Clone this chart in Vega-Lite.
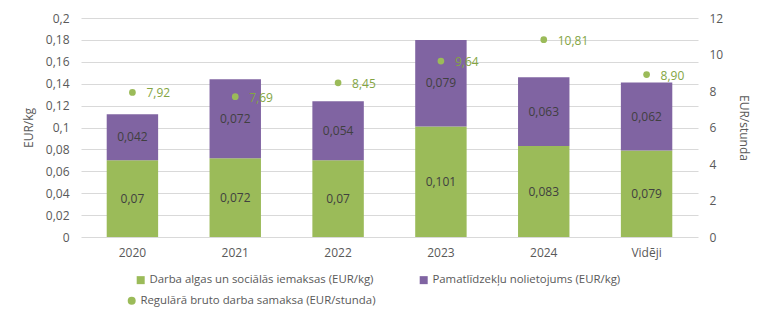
{
  "$schema": "https://vega.github.io/schema/vega-lite/v6.json",
  "width": 617,
  "height": 219,
  "autosize": {"type": "none"},
  "padding": {"left": 81, "top": 18, "right": 70, "bottom": 95},
  "background": "white",
  "datasets": {
    "bars": [
      {"year": "2020", "series": "Darba algas un sociālās iemaksas (EUR/kg)", "value": 0.07},
      {"year": "2020", "series": "Pamatlīdzekļu nolietojums (EUR/kg)", "value": 0.042},
      {"year": "2021", "series": "Darba algas un sociālās iemaksas (EUR/kg)", "value": 0.072},
      {"year": "2021", "series": "Pamatlīdzekļu nolietojums (EUR/kg)", "value": 0.072},
      {"year": "2022", "series": "Darba algas un sociālās iemaksas (EUR/kg)", "value": 0.07},
      {"year": "2022", "series": "Pamatlīdzekļu nolietojums (EUR/kg)", "value": 0.054},
      {"year": "2023", "series": "Darba algas un sociālās iemaksas (EUR/kg)", "value": 0.101},
      {"year": "2023", "series": "Pamatlīdzekļu nolietojums (EUR/kg)", "value": 0.079},
      {"year": "2024", "series": "Darba algas un sociālās iemaksas (EUR/kg)", "value": 0.083},
      {"year": "2024", "series": "Pamatlīdzekļu nolietojums (EUR/kg)", "value": 0.063},
      {"year": "Vidēji", "series": "Darba algas un sociālās iemaksas (EUR/kg)", "value": 0.079},
      {"year": "Vidēji", "series": "Pamatlīdzekļu nolietojums (EUR/kg)", "value": 0.062}
    ],
    "wages": [
      {"year": "2020", "series": "Regulārā bruto darba samaksa (EUR/stunda)", "wage": 7.92},
      {"year": "2021", "series": "Regulārā bruto darba samaksa (EUR/stunda)", "wage": 7.69},
      {"year": "2022", "series": "Regulārā bruto darba samaksa (EUR/stunda)", "wage": 8.45},
      {"year": "2023", "series": "Regulārā bruto darba samaksa (EUR/stunda)", "wage": 9.64},
      {"year": "2024", "series": "Regulārā bruto darba samaksa (EUR/stunda)", "wage": 10.81},
      {"year": "Vidēji", "series": "Regulārā bruto darba samaksa (EUR/stunda)", "wage": 8.90}
    ]
  },
  "layer": [
    {
      "data": {"name": "bars"},
      "encoding": {
        "x": {
          "field": "year", "type": "nominal",
          "scale": {"domain": ["2020", "2021", "2022", "2023", "2024", "Vidēji"], "paddingInner": 0.5, "paddingOuter": 0.25},
          "axis": {"title": null, "labelAngle": 0, "ticks": false, "domain": false, "labelPadding": 10, "grid": false}
        }
      },
      "layer": [
        {
          "mark": {"type": "bar"},
          "encoding": {
            "y": {
              "field": "value", "type": "quantitative", "stack": "zero",
              "scale": {"domain": [0, 0.2], "nice": false},
              "axis": {"orient": "left", "title": "EUR/kg", "values": [0, 0.02, 0.04, 0.06, 0.08, 0.1, 0.12, 0.14, 0.16, 0.18, 0.2], "format": ".2~f", "labelOverlap": false, "ticks": false, "domain": false, "labelPadding": 12, "titlePadding": 10, "grid": true}
            },
            "color": {
              "field": "series", "type": "nominal",
              "scale": {"domain": ["Darba algas un sociālās iemaksas (EUR/kg)", "Pamatlīdzekļu nolietojums (EUR/kg)"], "range": ["#9bbb59", "#8064a2"]},
              "legend": {"title": null, "orient": "none", "direction": "horizontal", "legendX": 54, "legendY": 256, "symbolType": "square", "symbolSize": 64, "labelOffset": 3, "columnPadding": 44, "padding": 0}
            },
            "order": {"field": "series", "sort": "ascending"}
          }
        },
        {
          "mark": {"type": "text", "fontSize": 12, "color": "#404040", "baseline": "middle"},
          "encoding": {
            "y": {
              "field": "value", "type": "quantitative", "stack": "zero", "bandPosition": 0.5,
              "axis": {"orient": "left", "title": "EUR/kg", "values": [0, 0.02, 0.04, 0.06, 0.08, 0.1, 0.12, 0.14, 0.16, 0.18, 0.2], "format": ".2~f", "labelOverlap": false, "ticks": false, "domain": false, "labelPadding": 12, "titlePadding": 10, "grid": true}
            },
            "detail": {"field": "series"},
            "order": {"field": "series", "sort": "ascending"},
            "text": {"field": "value", "type": "quantitative", "format": ".3~f"}
          }
        }
      ]
    },
    {
      "data": {"name": "wages"},
      "encoding": {
        "x": {"field": "year", "type": "nominal"},
        "y": {
          "field": "wage", "type": "quantitative",
          "scale": {"domain": [0, 12], "nice": false},
          "axis": {"orient": "right", "title": "EUR/stunda", "values": [0, 2, 4, 6, 8, 10, 12], "format": "d", "labelOverlap": false, "ticks": false, "domain": false, "grid": false, "labelPadding": 11, "titlePadding": 14}
        }
      },
      "layer": [
        {
          "mark": {"type": "point", "filled": true, "opacity": 1, "size": 45, "color": "#9bbb59"},
          "encoding": {
            "shape": {
              "field": "series", "type": "nominal",
              "scale": {"range": ["circle"]},
              "legend": {"title": null, "orient": "none", "legendX": 45, "legendY": 277, "symbolSize": 64, "symbolFillColor": "#9bbb59", "symbolStrokeColor": "#9bbb59", "labelOffset": 3, "padding": 0}
            }
          }
        },
        {
          "mark": {"type": "text", "align": "left", "baseline": "middle", "dx": 14, "dy": 1, "fontSize": 12, "color": "#84a543"},
          "encoding": {
            "text": {"field": "wage", "type": "quantitative", "format": ".2f"}
          }
        }
      ]
    }
  ],
  "resolve": {"scale": {"y": "independent"}},
  "config": {
    "locale": {"number": {"decimal": ",", "thousands": " ", "grouping": [3], "currency": ["", " €"]}},
    "font": "Open Sans",
    "view": {"stroke": null},
    "axis": {"labelFont": "Open Sans", "labelFontSize": 12, "labelColor": "#595959", "titleFont": "Open Sans", "titleFontSize": 12, "titleFontWeight": "normal", "titleColor": "#595959", "gridColor": "#d9d9d9", "gridWidth": 1},
    "legend": {"labelFont": "Open Sans", "labelFontSize": 11.4, "labelColor": "#595959", "labelLimit": 400}
  }
}
